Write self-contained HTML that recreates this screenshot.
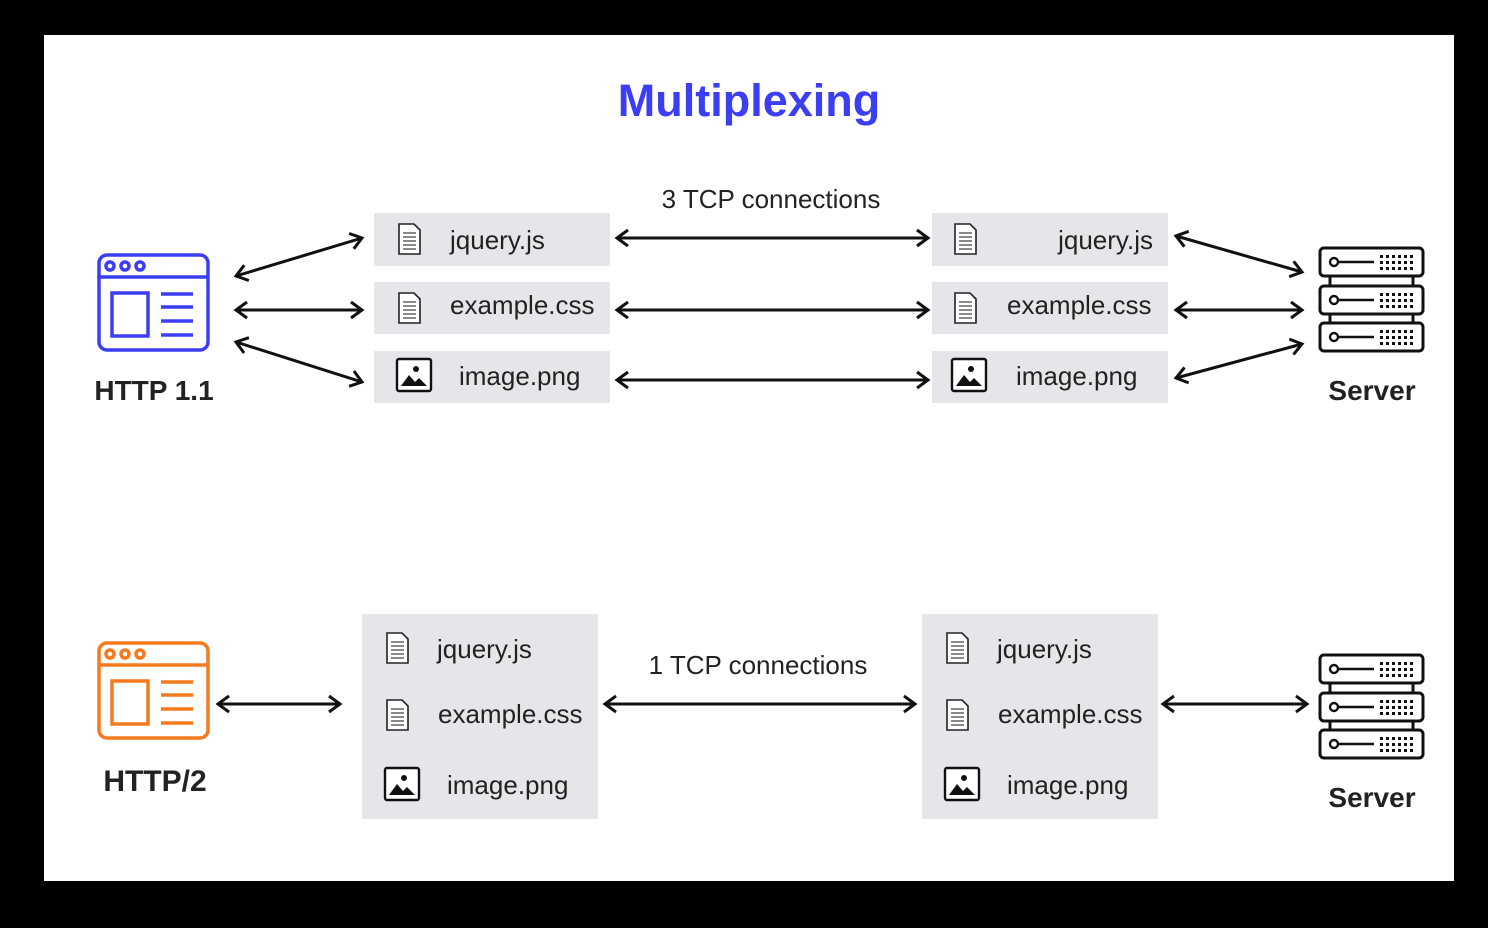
<!DOCTYPE html>
<html><head><meta charset="utf-8"><style>
html,body{margin:0;padding:0;background:#000;}
svg{display:block;}
text{font-family:"Liberation Sans",sans-serif;}
</style></head><body>
<svg width="1488" height="928" viewBox="0 0 1488 928" xmlns="http://www.w3.org/2000/svg">
<defs>
<marker id="a" viewBox="0 0 20 20" refX="17" refY="10" markerWidth="20" markerHeight="20" markerUnits="userSpaceOnUse" orient="auto-start-reverse">
<polyline points="6,2 17,10 6,18" fill="none" stroke="#111" stroke-width="3"/>
</marker>
<g id="doc"><path d="M0,0 h15 l6,6 v24 h-21 z" fill="#fff" stroke="#222" stroke-width="1.6"/><path d="M4,9h13M4,13h13M4,17h13M4,21h13M4,25h13" stroke="#444" stroke-width="1.2"/></g>
<g id="img"><rect x="0" y="0" width="34" height="32" rx="2" fill="#fff" stroke="#111" stroke-width="2.4"/><circle cx="19" cy="10" r="3" fill="#111"/><path d="M4,27 L12,16 L18,23 L22,19 L30,27 z" fill="#111"/></g>
<g id="srvunit"><rect x="0" y="0" width="103" height="28" rx="4" fill="#fff" stroke="#111" stroke-width="3"/><circle cx="14" cy="14" r="4" fill="none" stroke="#111" stroke-width="2.4"/><path d="M18,14h36" stroke="#111" stroke-width="2.4"/><g fill="#111"><rect x="60" y="7" width="3" height="3"/><rect x="66" y="7" width="3" height="3"/><rect x="72" y="7" width="3" height="3"/><rect x="78" y="7" width="3" height="3"/><rect x="84" y="7" width="3" height="3"/><rect x="90" y="7" width="3" height="3"/><rect x="60" y="13" width="3" height="3"/><rect x="66" y="13" width="3" height="3"/><rect x="72" y="13" width="3" height="3"/><rect x="78" y="13" width="3" height="3"/><rect x="84" y="13" width="3" height="3"/><rect x="90" y="13" width="3" height="3"/><rect x="60" y="19" width="3" height="3"/><rect x="66" y="19" width="3" height="3"/><rect x="72" y="19" width="3" height="3"/><rect x="78" y="19" width="3" height="3"/><rect x="84" y="19" width="3" height="3"/><rect x="90" y="19" width="3" height="3"/></g></g>
<g id="srv"><path d="M10,28v10M93,28v10M10,66v10M93,66v10" stroke="#111" stroke-width="3"/><use href="#srvunit" x="0" y="0"/><use href="#srvunit" x="0" y="38"/><use href="#srvunit" x="0" y="75"/></g>
</defs>
<rect x="44" y="35" width="1410" height="846" fill="#fff"/>
<text x="749" y="116" text-anchor="middle" font-size="45" font-weight="bold" fill="#3b3ef5">Multiplexing</text>

<g stroke="#3b3ef5" stroke-width="3.5" fill="none">
<rect x="99" y="255" width="109" height="95" rx="8"/><path d="M99,277h109"/>
<circle cx="110" cy="266" r="4"/><circle cx="125" cy="266" r="4"/><circle cx="140" cy="266" r="4"/>
<rect x="112" y="293" width="36" height="43"/><path d="M161,294h32M161,307h32M161,321h32M161,335h32"/>
</g>
<text x="154" y="400" text-anchor="middle" font-size="28" font-weight="bold" fill="#222">HTTP 1.1</text>

<g stroke="#f57a1f" stroke-width="3.5" fill="none">
<rect x="99" y="643" width="109" height="95" rx="8"/><path d="M99,665h109"/>
<circle cx="110" cy="654" r="4"/><circle cx="125" cy="654" r="4"/><circle cx="140" cy="654" r="4"/>
<rect x="112" y="681" width="36" height="43"/><path d="M161,682h32M161,695h32M161,709h32M161,723h32"/>
</g>
<text x="155" y="791" text-anchor="middle" font-size="30" font-weight="bold" fill="#222">HTTP/2</text>

<g fill="#e6e6ea">
<rect x="374" y="213" width="236" height="53"/><rect x="374" y="282" width="236" height="52"/><rect x="374" y="351" width="236" height="52"/>
<rect x="932" y="213" width="236" height="53"/><rect x="932" y="282" width="236" height="52"/><rect x="932" y="351" width="236" height="52"/>
<rect x="362" y="614" width="236" height="205"/><rect x="922" y="614" width="236" height="205"/>
</g>
<use href="#doc" x="399" y="224"/><use href="#doc" x="399" y="293"/><use href="#img" x="397" y="359"/>
<use href="#doc" x="955" y="224"/><use href="#doc" x="955" y="293"/><use href="#img" x="952" y="359"/>
<use href="#doc" x="387" y="633"/><use href="#doc" x="387" y="700"/><use href="#img" x="385" y="768"/>
<use href="#doc" x="947" y="633"/><use href="#doc" x="947" y="700"/><use href="#img" x="945" y="768"/>
<g font-size="26" fill="#222">
<text x="450" y="249">jquery.js</text><text x="450" y="314">example.css</text><text x="459" y="385">image.png</text>
<text x="1153" y="249" text-anchor="end">jquery.js</text><text x="1007" y="314">example.css</text><text x="1016" y="385">image.png</text>
<text x="437" y="658">jquery.js</text><text x="438" y="723">example.css</text><text x="447" y="794">image.png</text>
<text x="997" y="658">jquery.js</text><text x="998" y="723">example.css</text><text x="1007" y="794">image.png</text>
<text x="771" y="208" text-anchor="middle">3 TCP connections</text>
<text x="758" y="674" text-anchor="middle">1 TCP connections</text>
</g>
<g font-size="28" font-weight="bold" fill="#222">
<text x="1372" y="400" text-anchor="middle">Server</text>
<text x="1372" y="807" text-anchor="middle">Server</text>
</g>
<use href="#srv" x="1320" y="248"/>
<use href="#srv" x="1320" y="655"/>

<g stroke="#111" stroke-width="3" marker-start="url(#a)" marker-end="url(#a)">
<line x1="236" y1="276" x2="362" y2="238"/>
<line x1="236" y1="310" x2="362" y2="310"/>
<line x1="236" y1="342" x2="362" y2="382"/>
<line x1="617" y1="238" x2="928" y2="238"/>
<line x1="617" y1="310" x2="928" y2="310"/>
<line x1="617" y1="380" x2="928" y2="380"/>
<line x1="1176" y1="236" x2="1302" y2="272"/>
<line x1="1176" y1="310" x2="1302" y2="310"/>
<line x1="1176" y1="378" x2="1302" y2="344"/>
<line x1="218" y1="704" x2="340" y2="704"/>
<line x1="605" y1="704" x2="915" y2="704"/>
<line x1="1163" y1="704" x2="1307" y2="704"/>
</g>
</svg>
</body></html>
